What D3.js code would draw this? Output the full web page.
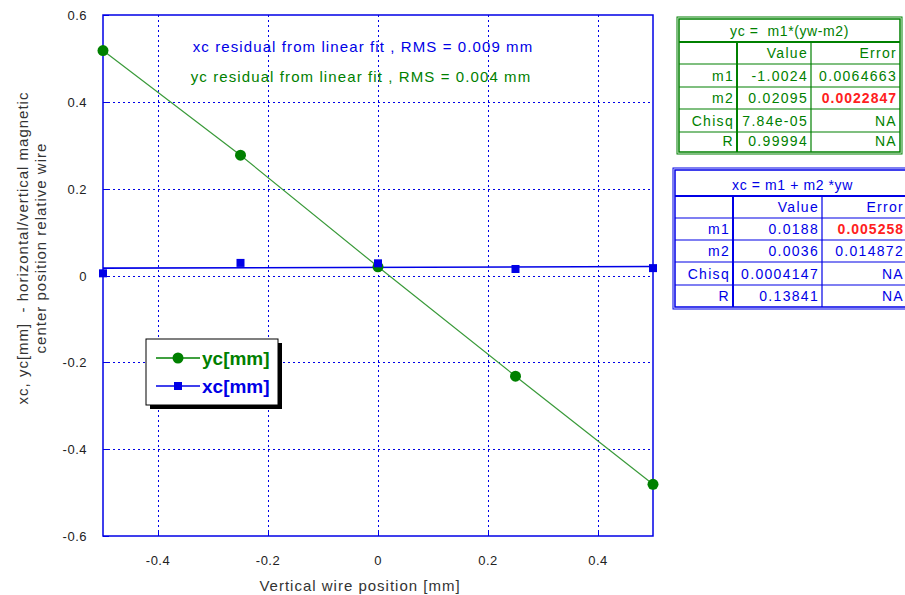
<!DOCTYPE html>
<html>
<head>
<meta charset="utf-8">
<script src="https://cdn.jsdelivr.net/npm/d3@7"></script>
<style>
  body { margin: 0; background: #fff; }
  svg { font-family: "Liberation Sans", Arial, sans-serif; }
  text { white-space: pre; }
</style>
</head>
<body>
<div id="chart"></div>
<script>
// wire position vs magnetic centre readings
const wirePos = [-0.5, -0.25, 0, 0.25, 0.5];
const ycValues = [0.518, 0.277, 0.020, -0.232, -0.481];
const xcValues = [0.005, 0.029, 0.028, 0.015, 0.017];
const xTicks = [-0.4, -0.2, 0, 0.2, 0.4];
const yTicks = [-0.6, -0.4, -0.2, 0, 0.2, 0.4, 0.6];

// xc linear fit, xc = m1 + m2*yw
const xcFit = [0.0188, 0.0036];

const ycTableTitle = "yc =  m1*(yw-m2)";
const ycTableRows = [
    ["", "Value", "Error"],
    ["m1", "-1.0024", "0.0064663"],
    ["m2", "0.02095", "0.0022847"],
    ["Chisq", "7.84e-05", "NA"],
    ["R", "0.99994", "NA"]
];
const xcTableTitle = "xc = m1 + m2 *yw";
const xcTableRows = [
    ["", "Value", "Error"],
    ["m1", "0.0188", "0.005258"],
    ["m2", "0.0036", "0.014872"],
    ["Chisq", "0.0004147", "NA"],
    ["R", "0.13841", "NA"]
];

const width = 905, height = 595;
const green = "#008000", blue = "#0000e6", red = "#ff2020";

let svg = d3.select("#chart")
    .append("svg")
    .attr("width", width)
    .attr("height", height);

const x = d3.scaleLinear().domain([-0.5, 0.5]).range([103, 653]);
const y = d3.scaleLinear().domain([-0.6, 0.6]).range([536, 15]);
const snap = v => Math.round(v) + 0.5;

// grid
svg.selectAll(".vgrid")
    .data(xTicks)
    .enter()
    .append("line")
    .attr("x1", d => snap(x(d))).attr("x2", d => snap(x(d)))
    .attr("y1", y(0.6)).attr("y2", y(-0.6))
    .attr("stroke", blue)
    .attr("stroke-dasharray", "2,3");

svg.selectAll(".hgrid")
    .data(yTicks.filter(d => Math.abs(d) < 0.6))
    .enter()
    .append("line")
    .attr("x1", x(-0.5)).attr("x2", x(0.5))
    .attr("y1", d => snap(y(d))).attr("y2", d => snap(y(d)))
    .attr("stroke", blue)
    .attr("stroke-dasharray", "2,3");

// inside tick marks
svg.selectAll(".xtick")
    .data(xTicks)
    .enter()
    .append("line")
    .attr("x1", d => snap(x(d))).attr("x2", d => snap(x(d)))
    .attr("y1", y(-0.6)).attr("y2", y(-0.6) - 6)
    .attr("stroke", blue);

svg.selectAll(".ytick")
    .data(yTicks)
    .enter()
    .append("line")
    .attr("x1", x(-0.5)).attr("x2", x(-0.5) + 6)
    .attr("y1", d => snap(y(d))).attr("y2", d => snap(y(d)))
    .attr("stroke", blue);

// frame
svg.append("rect")
    .attr("x", x(-0.5)).attr("y", y(0.6))
    .attr("width", x(0.5) - x(-0.5))
    .attr("height", y(-0.6) - y(0.6))
    .attr("fill", "none")
    .attr("stroke", blue)
    .attr("stroke-width", 1.5);

// tick labels
svg.selectAll(".xlab")
    .data(xTicks)
    .enter()
    .append("text")
    .attr("x", d => x(d))
    .attr("y", 565)
    .attr("text-anchor", "middle")
    .attr("font-size", "13px")
    .attr("letter-spacing", "0.5px")
    .attr("fill", "#222")
    .text(d => String(d));

svg.selectAll(".ylab")
    .data(yTicks)
    .enter()
    .append("text")
    .attr("x", 87)
    .attr("y", d => y(d) + 5)
    .attr("text-anchor", "end")
    .attr("font-size", "13px")
    .attr("letter-spacing", "0.5px")
    .attr("fill", "#222")
    .text(d => String(d));

svg.append("text")
    .attr("x", 360).attr("y", 591)
    .attr("text-anchor", "middle")
    .attr("font-size", "15px")
    .attr("letter-spacing", "1px")
    .attr("fill", "#333")
    .text("Vertical wire position [mm]");

let ylab = svg.append("g")
    .attr("transform", "translate(28,248) rotate(-90)");
ylab.append("text")
    .attr("text-anchor", "middle")
    .attr("font-size", "15px")
    .attr("letter-spacing", "1px")
    .attr("fill", "#333")
    .text("xc, yc[mm]  - horizontal/vertical magnetic");
ylab.append("text")
    .attr("y", 18)
    .attr("text-anchor", "middle")
    .attr("font-size", "15px")
    .attr("letter-spacing", "1px")
    .attr("fill", "#333")
    .text("center position relative wire");

// residual notes
svg.append("text")
    .attr("x", 363).attr("y", 52)
    .attr("text-anchor", "middle")
    .attr("font-size", "15px")
    .attr("letter-spacing", "1.1px")
    .attr("fill", blue)
    .text("xc residual from linear fit , RMS = 0.009 mm");
svg.append("text")
    .attr("x", 361).attr("y", 82)
    .attr("text-anchor", "middle")
    .attr("font-size", "15px")
    .attr("letter-spacing", "1.1px")
    .attr("fill", green)
    .text("yc residual from linear fit , RMS = 0.004 mm");

let ycData = wirePos.map((d, i) => [d, ycValues[i]]);
let xcData = wirePos.map((d, i) => [d, xcValues[i]]);

// yc polyline
svg.append("path")
    .attr("d", d3.line().x(d => x(d[0])).y(d => y(d[1]))(ycData))
    .attr("fill", "none")
    .attr("stroke", "#3a9a3a")
    .attr("stroke-width", 1.2);

// xc fit line
svg.append("line")
    .attr("x1", x(-0.5)).attr("x2", x(0.5))
    .attr("y1", y(xcFit[0] + xcFit[1] * -0.5))
    .attr("y2", y(xcFit[0] + xcFit[1] * 0.5))
    .attr("stroke", blue)
    .attr("stroke-width", 1.6);

svg.selectAll(".yc")
    .data(ycData)
    .enter()
    .append("circle")
    .attr("cx", d => x(d[0]))
    .attr("cy", d => y(d[1]))
    .attr("r", 5.5)
    .attr("fill", green);

svg.selectAll(".xc")
    .data(xcData)
    .enter()
    .append("rect")
    .attr("x", d => x(d[0]) - 4)
    .attr("y", d => y(d[1]) - 4)
    .attr("width", 8).attr("height", 8)
    .attr("fill", blue);

// legend
let lg = svg.append("g").attr("transform", "translate(146,339)");
lg.append("rect").attr("x", 4).attr("y", 4).attr("width", 132).attr("height", 66).attr("fill", "#000");
lg.append("rect").attr("x", 0).attr("y", 0).attr("width", 132).attr("height", 66)
    .attr("fill", "#fff").attr("stroke", "#000").attr("stroke-width", 1);
lg.append("line").attr("x1", 10).attr("x2", 54).attr("y1", 19).attr("y2", 19).attr("stroke", green).attr("stroke-width", 1.5);
lg.append("circle").attr("cx", 32).attr("cy", 19).attr("r", 5.5).attr("fill", green);
lg.append("text").attr("x", 56).attr("y", 26).attr("font-size", "19px").attr("font-weight", "bold")
    .attr("fill", green).text("yc[mm]");
lg.append("line").attr("x1", 10).attr("x2", 54).attr("y1", 47).attr("y2", 47).attr("stroke", blue).attr("stroke-width", 1.5);
lg.append("rect").attr("x", 28).attr("y", 43).attr("width", 8).attr("height", 8).attr("fill", blue);
lg.append("text").attr("x", 56).attr("y", 54).attr("font-size", "19px").attr("font-weight", "bold")
    .attr("fill", blue).text("xc[mm]");

// fit tables
let drawTable = function (x0, y0, cols, rows, title, cells, color, redCell) {
    let g = svg.append("g");
    const x1 = cols[cols.length - 1];
    g.append("rect")
        .attr("x", x0 - 2).attr("y", y0 - 2)
        .attr("width", x1 - x0 + 4).attr("height", rows[rows.length - 1] - y0 + 4)
        .attr("fill", "#fff").attr("stroke", color).attr("stroke-width", 1);
    g.append("rect")
        .attr("x", x0).attr("y", y0)
        .attr("width", x1 - x0).attr("height", rows[rows.length - 1] - y0)
        .attr("fill", "none").attr("stroke", color).attr("stroke-width", 1.5);
    rows.slice(1, -1).forEach(function (r, i) {
        g.append("line").attr("x1", x0).attr("x2", x1).attr("y1", r).attr("y2", r)
            .attr("stroke", color).attr("stroke-width", i == 0 ? 2 : 1.2);
    });
    cols.slice(1, -1).forEach(function (c, i) {
        g.append("line").attr("x1", c).attr("x2", c).attr("y1", rows[1]).attr("y2", rows[rows.length - 1])
            .attr("stroke", color).attr("stroke-width", i == 0 ? 2 : 1.2);
    });
    g.append("text")
        .attr("x", (x0 + x1) / 2).attr("y", rows[1] - 6)
        .attr("text-anchor", "middle").attr("font-size", "14px")
        .attr("letter-spacing", "0.6px").attr("fill", color)
        .text(title);
    cells.forEach(function (row, i) {
        row.forEach(function (cell, j) {
            const isRed = redCell && redCell[0] == i && redCell[1] == j;
            g.append("text")
                .attr("x", Math.min(cols[j + 1] - 3, width - 1))
                .attr("y", rows[i + 2] - 6)
                .attr("text-anchor", "end")
                .attr("font-size", "14px")
                .attr("letter-spacing", isRed ? "1px" : "1.3px")
                .attr("font-weight", isRed ? "bold" : "normal")
                .attr("fill", isRed ? red : color)
                .text(cell);
        });
    });
};

drawTable(679, 19, [679, 737, 811, 900], [19, 42, 64, 87, 109, 132, 152],
    ycTableTitle, ycTableRows, green, [2, 2]);
drawTable(675, 170, [675, 733, 822, 910], [170, 196, 218, 240, 262, 285, 307],
    xcTableTitle, xcTableRows, blue, [1, 2]);
</script>
</body>
</html>
